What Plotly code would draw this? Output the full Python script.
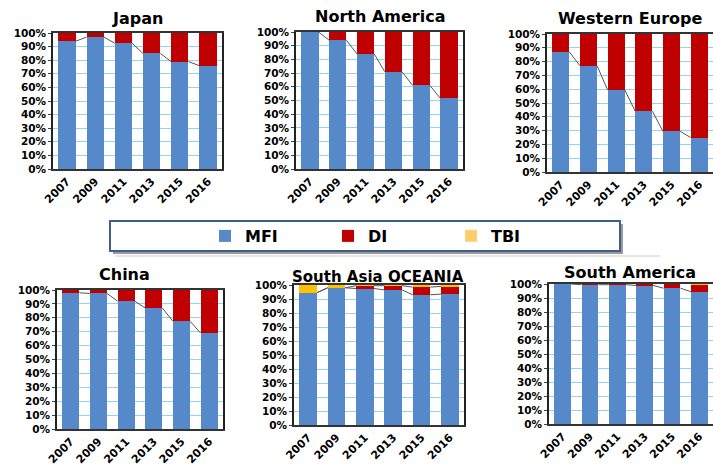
import plotly.graph_objects as go

W, H = 713, 466

years = ["2007", "2009", "2011", "2013", "2015", "2016"]
regions = ["Japan", "North America", "Western Europe", "China", "South Asia OCEANIA", "South America"]

japan_mfi = [0.94, 0.97, 0.925, 0.85, 0.79, 0.76]
japan_di = [0.06, 0.03, 0.075, 0.15, 0.21, 0.24]
japan_tbi = [0, 0, 0, 0, 0, 0]

na_mfi = [1.00, 0.94, 0.84, 0.71, 0.61, 0.515]
na_di = [0.00, 0.06, 0.16, 0.29, 0.39, 0.485]
na_tbi = [0, 0, 0, 0, 0, 0]

we_mfi = [0.87, 0.77, 0.595, 0.44, 0.295, 0.25]
we_di = [0.13, 0.23, 0.405, 0.56, 0.705, 0.75]
we_tbi = [0, 0, 0, 0, 0, 0]

china_mfi = [0.98, 0.975, 0.92, 0.87, 0.775, 0.69]
china_di = [0.02, 0.025, 0.08, 0.13, 0.225, 0.31]
china_tbi = [0, 0, 0, 0, 0, 0]

sao_mfi = [0.945, 0.98, 0.975, 0.965, 0.93, 0.935]
sao_di = [0.0, 0.0, 0.02, 0.03, 0.055, 0.055]
sao_tbi = [0.055, 0.02, 0.005, 0.005, 0.015, 0.01]

sam_mfi = [1.00, 0.995, 0.995, 0.99, 0.97, 0.945]
sam_di = [0.0, 0.005, 0.005, 0.01, 0.03, 0.05]
sam_tbi = [0, 0, 0, 0, 0, 0.005]

data = [
    (japan_mfi, japan_di, japan_tbi),
    (na_mfi, na_di, na_tbi),
    (we_mfi, we_di, we_tbi),
    (china_mfi, china_di, china_tbi),
    (sao_mfi, sao_di, sao_tbi),
    (sam_mfi, sam_di, sam_tbi),
]

C_MFI = "#5589C9"
C_DI = "#C00000"
C_TBI = "#FFC000"
C_TBI_LEG = "#FFCC66"
GRID = "#8ED6F2"

# plot areas in pixels: (x0, x1, ytop, ybottom)
boxes = [
    (53, 222, 33, 169),
    (296, 463, 32, 169),
    (547, 713, 34, 172),
    (57, 223, 290, 429),
    (294, 464, 285, 425),
    (549, 713, 284, 424),
]
title_pos = [(137, 18, 16), (380, 17, 16), (630, 18, 16), (124, 274, 16), (378, 277, 15), (630, 272, 16)]

BW = 0.62
FONT = "DejaVu Sans"
fig = go.Figure()

for k, (mfi, di, tbi) in enumerate(data):
    xa = "x" if k == 0 else f"x{k+1}"
    ya = "y" if k == 0 else f"y{k+1}"
    xs = list(range(len(years)))
    fig.add_trace(go.Bar(x=xs, y=mfi, name="MFI", marker_color=C_MFI, width=BW,
                         marker_line_width=0, xaxis=xa, yaxis=ya,
                         showlegend=(k == 0), legendgroup="MFI"))
    fig.add_trace(go.Bar(x=xs, y=di, name="DI", marker_color=C_DI, width=BW,
                         marker_line_width=0, xaxis=xa, yaxis=ya,
                         showlegend=(k == 0), legendgroup="DI"))
    fig.add_trace(go.Bar(x=xs, y=tbi, name="TBI", marker_color=C_TBI, width=BW,
                         marker_line_width=0, xaxis=xa, yaxis=ya,
                         showlegend=False, legendgroup="TBI"))
    # series lines (MFI tops, and DI tops where visible)
    levels = [mfi]
    if k == 4:
        levels.append([m + d for m, d in zip(mfi, di)])
    for lv in levels:
        lx, ly = [], []
        for i in range(len(years) - 1):
            lx += [i + BW / 2, i + 1 - BW / 2, None]
            ly += [lv[i], lv[i + 1], None]
        fig.add_trace(go.Scatter(x=lx, y=ly, mode="lines", line=dict(color="#555555", width=1),
                                 xaxis=xa, yaxis=ya, showlegend=False, hoverinfo="skip"))

# legend-only entry for TBI in lighter legend colour
fig.add_trace(go.Bar(x=[None], y=[None], name="TBI", marker_color=C_TBI_LEG,
                     showlegend=True, legendgroup="TBI", xaxis="x", yaxis="y"))

layout = dict(
    width=W, height=H, margin=dict(l=0, r=0, t=0, b=0, autoexpand=False),
    paper_bgcolor="white", plot_bgcolor="white", barmode="stack",
    font=dict(family=FONT, color="#000000"),
    showlegend=True,
    legend=dict(orientation="h", x=205 / W, xanchor="left", y=1 - 236 / H, yanchor="middle",
                bgcolor="rgba(0,0,0,0)", borderwidth=0,
                font=dict(family=FONT, size=16, weight="bold", color="#000"),
                entrywidth=78, entrywidthmode="pixels", itemwidth=30,
                traceorder="normal"),
)

annotations = []
for k, (x0, x1, yt, yb) in enumerate(boxes):
    sx = "" if k == 0 else str(k + 1)
    layout[f"xaxis{sx}"] = dict(
        domain=[x0 / W, x1 / W], anchor=f"y{sx}", range=[-0.5, len(years) - 0.5],
        tickvals=list(range(len(years))), ticktext=years, tickangle=-45,
        tickfont=dict(family=FONT, size=11, weight="bold", color="#000"),
        showgrid=False, zeroline=False, showline=True, linecolor="#333333", linewidth=1.5,
        mirror=True, ticks="", fixedrange=True, automargin=False,
    )
    layout[f"yaxis{sx}"] = dict(
        domain=[1 - yb / H, 1 - yt / H], anchor=f"x{sx}", range=[0, 1],
        dtick=0.1, tickformat=".0%",
        tickfont=dict(family=FONT, size=10.5, weight="bold", color="#000"),
        showgrid=True, gridcolor=GRID, gridwidth=1, zeroline=False,
        showline=True, linecolor="#222222", linewidth=1.5, mirror=True,
        ticks="outside", ticklen=3, tickcolor="#444", fixedrange=True, automargin=False,
    )
    tx, ty, ts = title_pos[k]
    annotations.append(dict(text=regions[k], x=tx / W, y=1 - ty / H, xref="paper", yref="paper",
                            showarrow=False, xanchor="center", yanchor="middle",
                            font=dict(family=FONT, size=ts, weight="bold", color="#000")))

layout["annotations"] = annotations
layout["shapes"] = [
    dict(type="line", xref="paper", yref="paper", x0=115 / W, x1=660 / W,
         y0=1 - 256 / H, y1=1 - 256 / H, line=dict(color="#DDDDDD", width=1.5), layer="below"),
    dict(type="rect", xref="paper", yref="paper", x0=113 / W, x1=623 / W,
         y0=1 - 254 / H, y1=1 - 224 / H, line=dict(width=0), fillcolor="#9A9A9A", layer="below"),
    dict(type="rect", xref="paper", yref="paper", x0=110 / W, x1=620 / W,
         y0=1 - 251 / H, y1=1 - 221 / H, line=dict(color="#3F5F8A", width=2), fillcolor="white",
         layer="below"),
]

fig.update_layout(**layout)
fig.write_html(
    "out.html",
    config={"displayModeBar": False},
    post_script="document.body.style.margin='0';document.body.style.overflow='hidden';",
)
